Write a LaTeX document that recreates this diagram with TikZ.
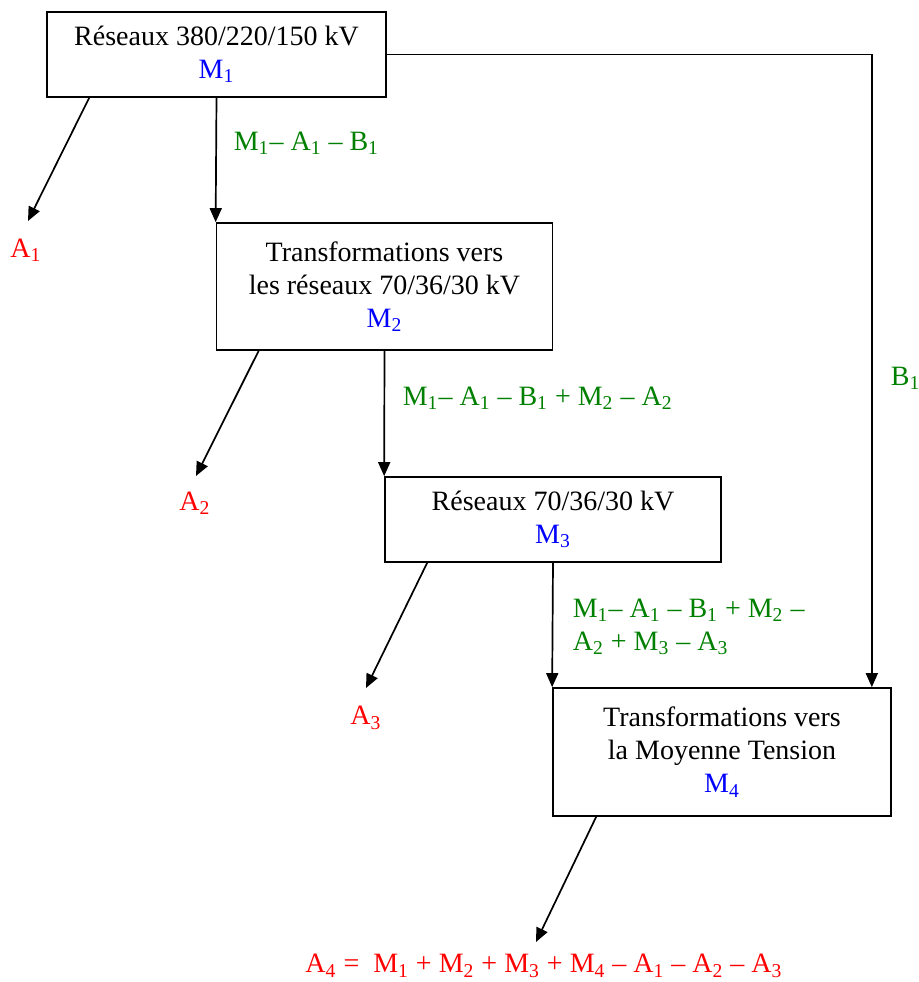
\documentclass[tikz,border=0pt]{standalone}
\usepackage{fontspec}
\setmainfont{Liberation Serif}
\usetikzlibrary{arrows.meta,calc}
\definecolor{lossred}{RGB}{255,0,0}
\definecolor{inblue}{RGB}{0,0,255}
\definecolor{flowgreen}{RGB}{0,128,0}
\tikzset{
  chart/.style={x=0.5pt, y=-0.5pt, line width=0.85pt,
    font=\fontsize{14}{16.5}\selectfont},
  stage/.style={draw, rectangle, align=center, inner sep=0pt},
  loss/.style={text=lossred, inner sep=1pt},
  flowlab/.style={text=flowgreen, anchor=west, align=left, inner sep=0pt},
  flow/.style={-{Triangle[length=7pt,width=6pt]}},
}
\newcommand{\ix}[2]{#1\textsubscript{#2}}

\begin{document}
\begin{tikzpicture}[chart]
  \useasboundingbox (0,0) rectangle (918,982);
  % conversion stages
  \node[stage, minimum width=169.5pt, minimum height=42.5pt] (res1) at (216.5,54.5)
    {Réseaux 380/220/150 kV\\ \textcolor{inblue}{\ix{M}{1}}};
  \node[stage, minimum width=168pt, minimum height=63.5pt] (tr2) at (384.5,286.5)
    {Transformations vers\\ les réseaux 70/36/30 kV\\ \textcolor{inblue}{\ix{M}{2}}};
  \node[stage, minimum width=168pt, minimum height=42.5pt] (res3) at (553,519.5)
    {Réseaux 70/36/30 kV\\ \textcolor{inblue}{\ix{M}{3}}};
  \node[stage, minimum width=169pt, minimum height=64pt] (tr4) at (722,752)
    {Transformations vers\\ la Moyenne Tension\\ \textcolor{inblue}{\ix{M}{4}}};
  % losses
  \coordinate (tA1) at (28,221);
  \coordinate (tA2) at (196,476);
  \coordinate (tA3) at (366,688);
  \coordinate (tA4) at (536,942);
  \node[loss] (a1) at (26,250) {\ix{A}{1}};
  \node[loss] (a2) at (195,503) {\ix{A}{2}};
  \node[loss] (a3) at (366,718) {\ix{A}{3}};
  \node[loss] (a4) at (544,966)
    {\ix{A}{4} =\ \ \ix{M}{1} + \ix{M}{2} + \ix{M}{3} + \ix{M}{4} – \ix{A}{1} – \ix{A}{2} – \ix{A}{3}};
  \draw[flow] ($(res1.south west)+(43,0)$) -- (tA1);
  \draw[flow] ($(tr2.south west)+(43,0)$) -- (tA2);
  \draw[flow] ($(res3.south west)+(43,0)$) -- (tA3);
  \draw[flow] ($(tr4.south west)+(44,0)$) -- (tA4);
  % energy passed on
  \draw[flow] (res1.south) -- (tr2.north west);
  \draw[flow] (tr2.south) -- (res3.north west);
  \draw[flow] (res3.south) -- (tr4.north west);
  \draw[flow] (res1.east) -| ($(tr4.north east)+(-20,0)$);
  \node[flowlab] (f1) at (233,143) {\ix{M}{1}– \ix{A}{1} – \ix{B}{1}};
  \node[flowlab] (f2) at (402,398)
    {\ix{M}{1}– \ix{A}{1} – \ix{B}{1} + \ix{M}{2} – \ix{A}{2}};
  \node[flowlab] (f3) at (572,627)
    {\ix{M}{1}– \ix{A}{1} – \ix{B}{1} + \ix{M}{2} –\\ \ix{A}{2} + \ix{M}{3} – \ix{A}{3}};
  \node[flowlab] (b1) at (890,378) {\ix{B}{1}};
\end{tikzpicture}
\end{document}
